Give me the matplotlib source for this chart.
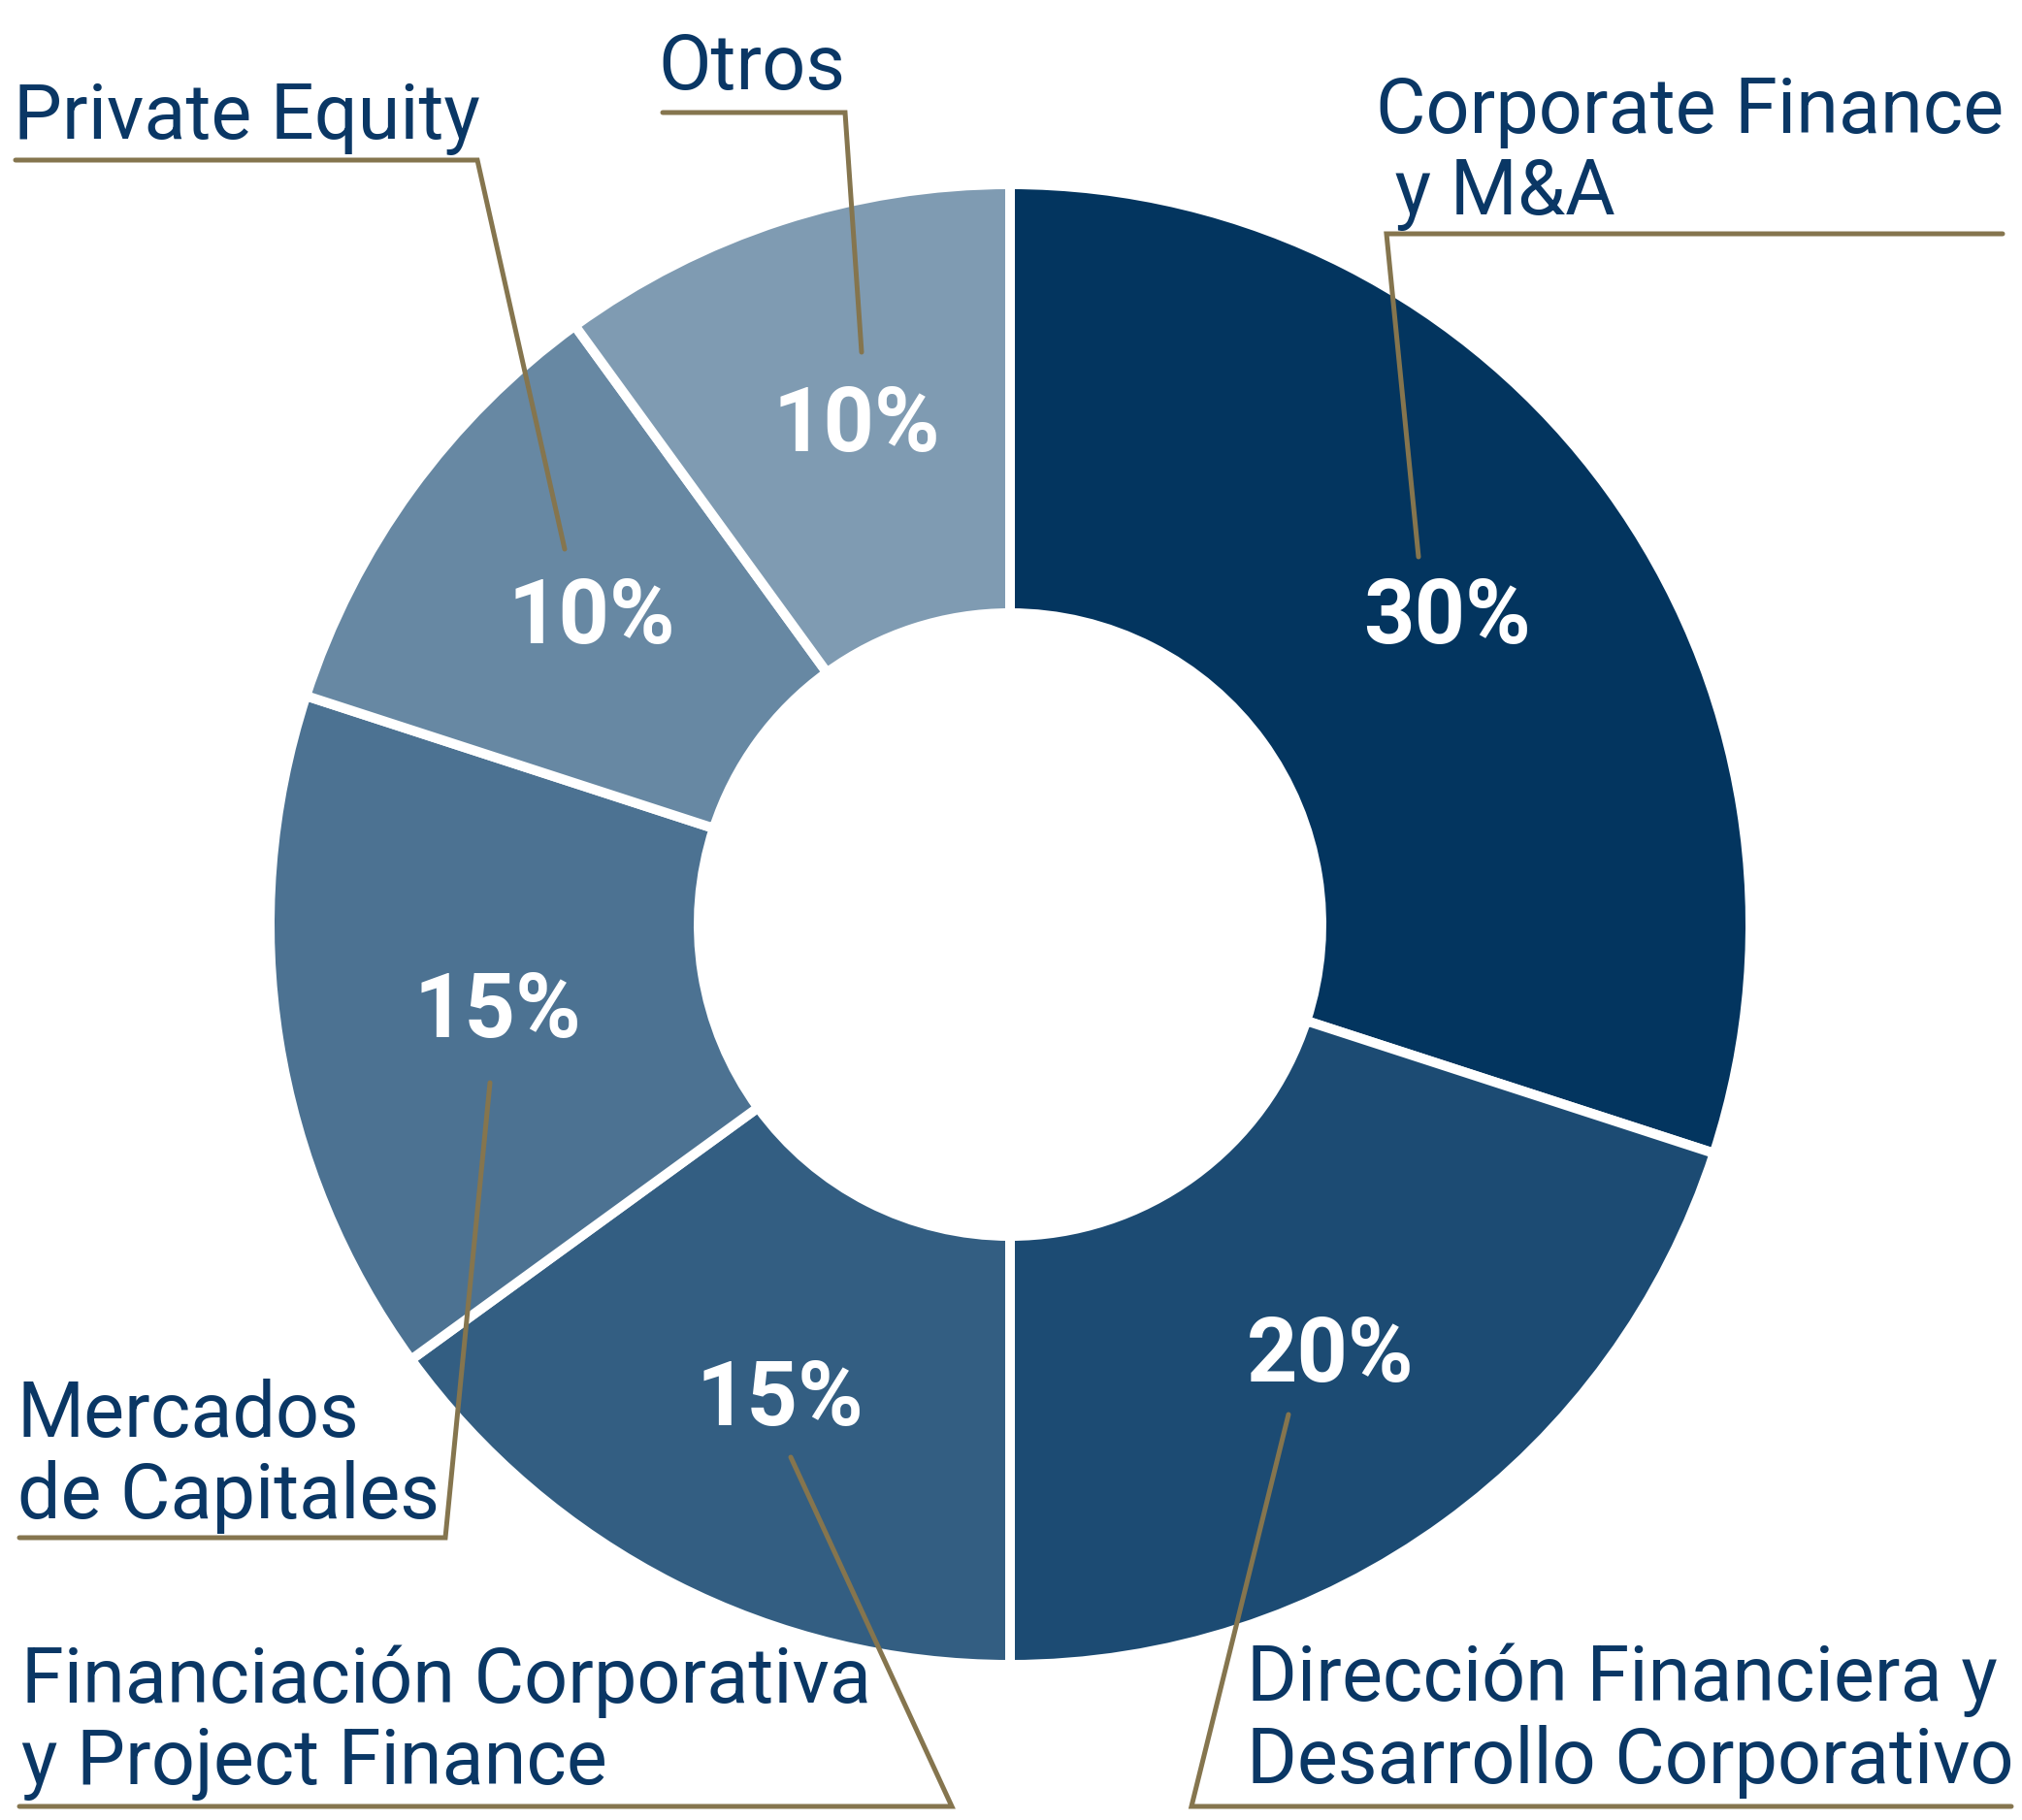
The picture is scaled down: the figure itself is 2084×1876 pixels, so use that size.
import matplotlib
matplotlib.use("Agg")
import matplotlib.pyplot as plt

# ---- data ----
categories = [
    "Corporate Finance\n y M&A",
    "Dirección Financiera y\nDesarrollo Corporativo",
    "Financiación Corporativa\ny Project Finance",
    "Mercados\nde Capitales",
    "Private Equity",
    "Otros",
]
shares = [30, 20, 15, 15, 10, 10]
colors = ["#03355F", "#1C4B73", "#335E82", "#4C7292", "#6788A3", "#7F9BB2"]

# ---- layout (pixel coordinates, origin top-left) ----
W, H = 2084, 1876
CX, CY = 1041, 953
R_OUT = 763
R_IN = 321
TEXT_COLOR = "#0A3765"
LINE_COLOR = "#85754E"

label_pos = [  # (x_left, baseline of last line)
    (1418, 221),
    (1285, 1838),
    (22, 1839),
    (18, 1565),
    (14, 143),
    (678, 92),
]
leaders = [
    [(1462, 574), (1429, 241), (2064, 241)],
    [(1328, 1458), (1228, 1862), (2073, 1862)],
    [(815, 1502), (981, 1862), (20, 1862)],
    [(505, 1116), (459, 1585), (20, 1585)],
    [(582, 566), (492, 165), (16, 165)],
    [(888, 363), (871, 116), (683, 116)],
]

plt.rcParams["font.family"] = ["Roboto", "DejaVu Sans"]

fig = plt.figure(figsize=(W / 100, H / 100), dpi=100)
ax = fig.add_axes([0, 0, 1, 1])


def Y(y):
    return H - y


wedges, _, autotexts = ax.pie(
    shares,
    colors=colors,
    startangle=90,
    counterclock=False,
    center=(CX, Y(CY)),
    radius=R_OUT,
    autopct=lambda p: f"{p:.0f}%",
    pctdistance=0.714,
    wedgeprops=dict(width=R_OUT - R_IN, edgecolor="white", linewidth=7.2),
    textprops=dict(color="white", fontsize=66, fontweight="bold"),
)
for t in autotexts:
    x, y = t.get_position()
    t.set_position((x + 10, y - 5))

ax.set_xlim(0, W)
ax.set_ylim(0, H)
ax.set_aspect("equal")
ax.axis("off")

for (x, y), txt in zip(label_pos, categories):
    ax.text(x, Y(y), txt, color=TEXT_COLOR, fontsize=57, ha="left",
            va="baseline", linespacing=1.14, fontweight="normal")

for pts in leaders:
    xs = [p[0] for p in pts]
    ys = [Y(p[1]) for p in pts]
    ax.plot(xs, ys, color=LINE_COLOR, linewidth=3.6, solid_capstyle="round",
            solid_joinstyle="miter")

fig.savefig("out.png", dpi=100, facecolor="white")
